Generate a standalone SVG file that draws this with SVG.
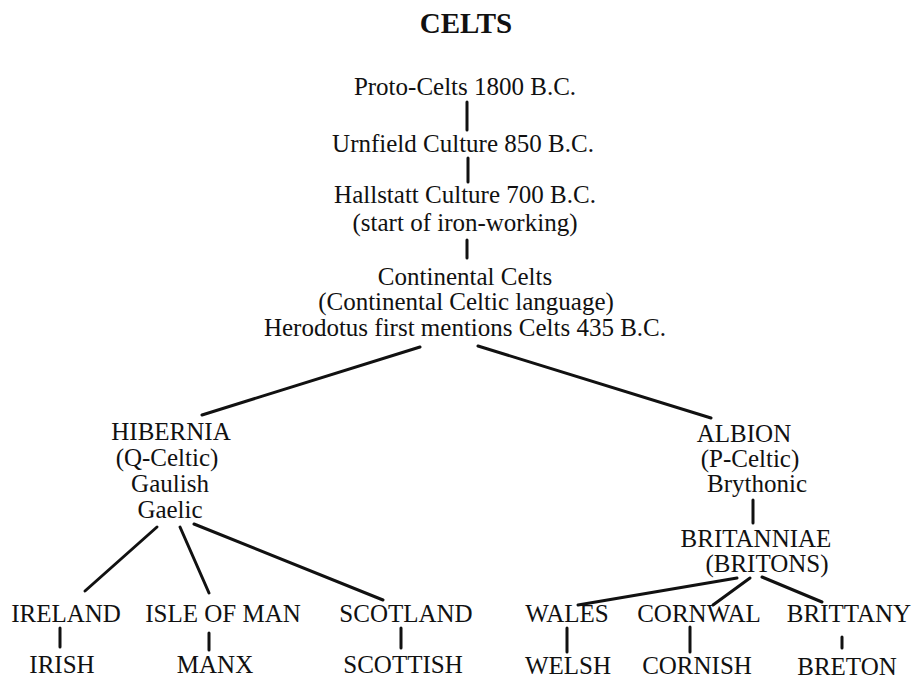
<svg xmlns="http://www.w3.org/2000/svg" width="914" height="679" viewBox="0 0 914 679">
<style>
text{font-family:"Liberation Serif","Times New Roman",serif;font-size:25px;fill:#111;text-anchor:middle}
.title{font-size:29px;font-weight:bold}
.c line{stroke:#111;stroke-width:3;stroke-linecap:round}
</style>
<rect width="914" height="679" fill="#fff"/>
<text class="title" x="466" y="33">CELTS</text>
<g class="c" id="connectors">
<line x1="467" y1="102" x2="467" y2="130"/>
<line x1="468" y1="158" x2="468" y2="182"/>
<line x1="467" y1="240" x2="467" y2="258"/>
<line x1="420" y1="347" x2="202" y2="415"/>
<line x1="478" y1="346" x2="711" y2="418"/>
<line x1="157" y1="527" x2="85" y2="591"/>
<line x1="180" y1="527" x2="209" y2="593"/>
<line x1="194" y1="524" x2="383" y2="600"/>
<line x1="60" y1="628" x2="60" y2="647"/>
<line x1="209" y1="633" x2="209" y2="650"/>
<line x1="401" y1="628" x2="401" y2="648"/>
<line x1="753" y1="500" x2="753" y2="523"/>
<line x1="737" y1="578" x2="578" y2="605"/>
<line x1="750" y1="578" x2="713" y2="605"/>
<line x1="762" y1="577" x2="822" y2="602"/>
<line x1="567" y1="628" x2="567" y2="652"/>
<line x1="690" y1="627" x2="690" y2="652"/>
<line x1="842" y1="637" x2="842" y2="648"/>
</g>
<g id="proto"><text x="465" y="95">Proto-Celts 1800 B.C.</text></g>
<g id="urnfield"><text x="463" y="152">Urnfield Culture 850 B.C.</text></g>
<g id="hallstatt"><text x="465" y="203">Hallstatt Culture 700 B.C.</text><text x="465" y="231">(start of iron-working)</text></g>
<g id="continental"><text x="465" y="285">Continental Celts</text><text x="466" y="310">(Continental Celtic language)</text><text x="465" y="336">Herodotus first mentions Celts 435 B.C.</text></g>
<g id="hibernia"><text x="171" y="440">HIBERNIA</text><text x="167" y="466">(Q-Celtic)</text><text x="170" y="492">Gaulish</text><text x="170" y="518">Gaelic</text></g>
<g id="albion"><text x="744" y="442">ALBION</text><text x="750" y="467">(P-Celtic)</text><text x="757" y="492">Brythonic</text></g>
<g id="britanniae"><text x="756" y="547">BRITANNIAE</text><text x="767" y="572">(BRITONS)</text></g>
<g id="ireland"><text x="66" y="622">IRELAND</text></g>
<g id="isleofman"><text x="223" y="622">ISLE OF MAN</text></g>
<g id="scotland"><text x="406" y="622">SCOTLAND</text></g>
<g id="wales"><text x="567" y="622">WALES</text></g>
<g id="cornwal"><text x="699" y="622">CORNWAL</text></g>
<g id="brittany"><text x="849" y="622">BRITTANY</text></g>
<g id="irish"><text x="62" y="673">IRISH</text></g>
<g id="manx"><text x="215" y="673">MANX</text></g>
<g id="scottish"><text x="403" y="673">SCOTTISH</text></g>
<g id="welsh"><text x="568" y="674">WELSH</text></g>
<g id="cornish"><text x="697" y="674">CORNISH</text></g>
<g id="breton"><text x="847" y="675">BRETON</text></g>
</svg>
